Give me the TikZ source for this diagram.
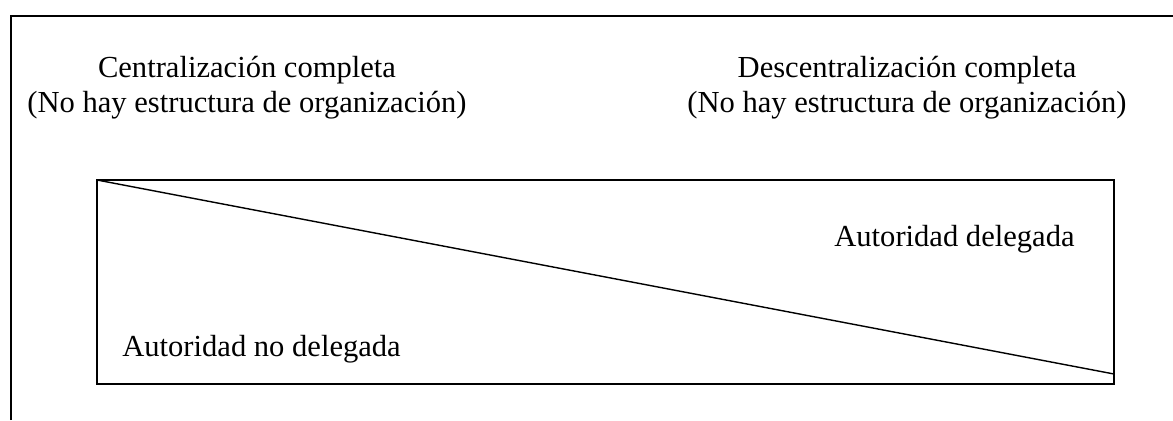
\documentclass[tikz,border=0pt]{standalone}
\usepackage{fontspec}
\setmainfont{Liberation Serif}
\usepackage{tikz}

\begin{document}
\begin{tikzpicture}[x=0.02cm, y=-0.02cm, every node/.style={inner sep=0pt, font=\fontsize{17.4}{20}\selectfont}, ln/.style={draw=black, line width=0.8pt}]
			\useasboundingbox (0,0) rectangle (1173,420);
			
			\coordinate (frame) at (11,16);
			\coordinate (tl) at (97,180);
			\coordinate (br) at (1114,384);
			\coordinate (dr) at (1114,374);
			
			\node[align=center] (centr) at (247,88){Centralización completa\\(No hay estructura de organización)};
			\node[align=center] (descentr) at (907,88){Descentralización completa\\(No hay estructura de organización)};
			\node[anchor=base west] (deleg) at (834,246){Autoridad delegada};
			\node[anchor=base west] (nodeleg) at (122,356){Autoridad no delegada};
			
			\path[ln, line width=1.2pt] (frame |- 0,420) -- (frame) -- (frame -| 1173,0);
			\path[ln] (tl) rectangle (br);
			\path[ln] (tl) -- (dr);
			\end{tikzpicture}
\end{document}
